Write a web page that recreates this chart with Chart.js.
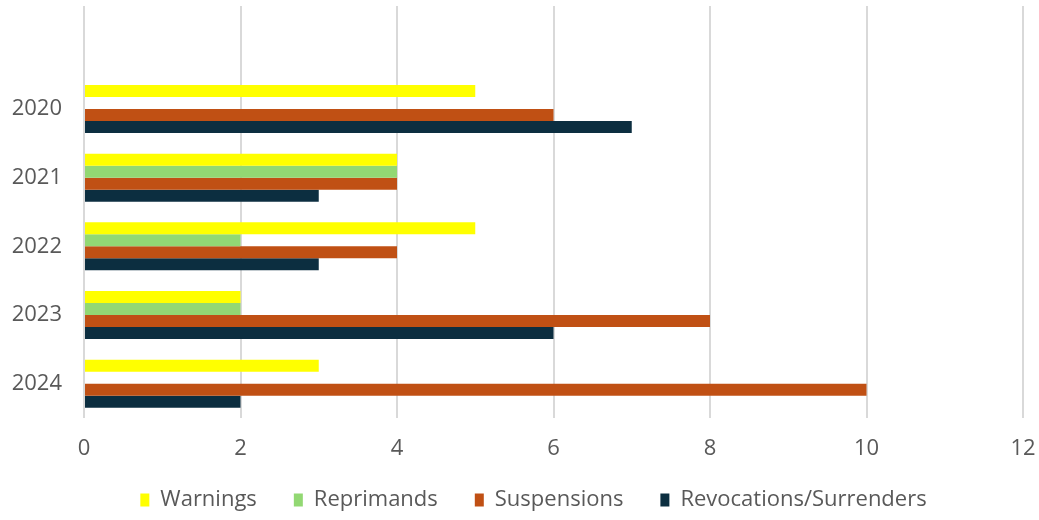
<!DOCTYPE html>
<html>
<head>
<meta charset="utf-8">
<script src="https://cdn.jsdelivr.net/npm/chart.js@4"></script>
<style>
  html, body { margin: 0; padding: 0; background: #fff; }
  #wrap { width: 1039px; height: 520px; }
</style>
</head>
<body>
<div id="wrap"><canvas id="chart"></canvas></div>
<script>
// first slot is an empty band at the top, like the original
const years = ['', '2020', '2021', '2022', '2023', '2024'];
const warnings = [null, 5, 4, 5, 2, 3];
const reprimands = [null, 0, 4, 2, 2, 0];
const suspensions = [null, 6, 4, 4, 8, 10];
const revocations = [null, 7, 3, 3, 6, 2];
const xTicks = [0, 2, 4, 6, 8, 10, 12];

const YELLOW = '#FFFF00';
const GREEN = '#92D873';
const RUST = '#C05014';
const NAVY = '#0C2E40';
const TEXT = '#595959';

Chart.defaults.font.family = "'Open Sans', 'Liberation Sans', sans-serif";
Chart.defaults.color = TEXT;

// legend sits lower, tighter and a bit right of where chart.js would put it
const legendPlace = {
    id: 'legendPlace',
    beforeInit(chart) {
        const origFit = chart.legend.fit;
        chart.legend.fit = function () {
            origFit.bind(chart.legend)();
            this.height = 52;
        };
    },
    afterLayout(chart) {
        const lg = chart.legend;
        lg.left += 22;
        lg.right += 22;
        lg.top -= 16;
    }
};

const data = {
    labels: years,
    datasets: [
        { label: 'Warnings', data: warnings, backgroundColor: YELLOW },
        { label: 'Reprimands', data: reprimands, backgroundColor: GREEN },
        { label: 'Suspensions', data: suspensions, backgroundColor: RUST },
        { label: 'Revocations/Surrenders', data: revocations, backgroundColor: NAVY },
    ]
};

const config = {
    type: 'bar',
    data: data,
    plugins: [legendPlace],
    options: {
        indexAxis: 'y',
        responsive: true,
        maintainAspectRatio: false,
        animation: false,
        layout: { padding: { left: 0, right: 16, top: 6, bottom: 0 } },
        datasets: {
            bar: {
                barPercentage: 1,
                categoryPercentage: 0.7,
                borderWidth: 0,
            }
        },
        plugins: {
            legend: {
                position: 'bottom',
                labels: {
                    boxWidth: 9,
                    boxHeight: 13,
                    padding: 37,
                    font: { size: 22 },
                    color: TEXT,
                }
            },
            tooltip: { enabled: false }
        },
        scales: {
            x: {
                min: 0,
                max: 12,
                afterBuildTicks: (axis) => { axis.ticks = xTicks.map(v => ({ value: v })); },
                afterFit: (axis) => {
                    axis.height = 50;
                    axis.paddingLeft = 0;
                    axis.paddingRight = 0;
                },
                grid: { color: '#D9D9D9', lineWidth: 2, drawTicks: false },
                border: { display: false },
                ticks: { padding: 18, font: { size: 22 }, color: TEXT },
            },
            y: {
                afterFit: (axis) => {
                    axis.width = 84;
                    axis.paddingTop = 0;
                    axis.paddingBottom = 0;
                },
                grid: { color: 'transparent', drawTicks: true, tickLength: 20 },
                border: { display: false },
                ticks: { padding: 2, font: { size: 22 }, color: TEXT },
            }
        }
    }
};

new Chart(document.getElementById('chart'), config);
</script>
</body>
</html>
